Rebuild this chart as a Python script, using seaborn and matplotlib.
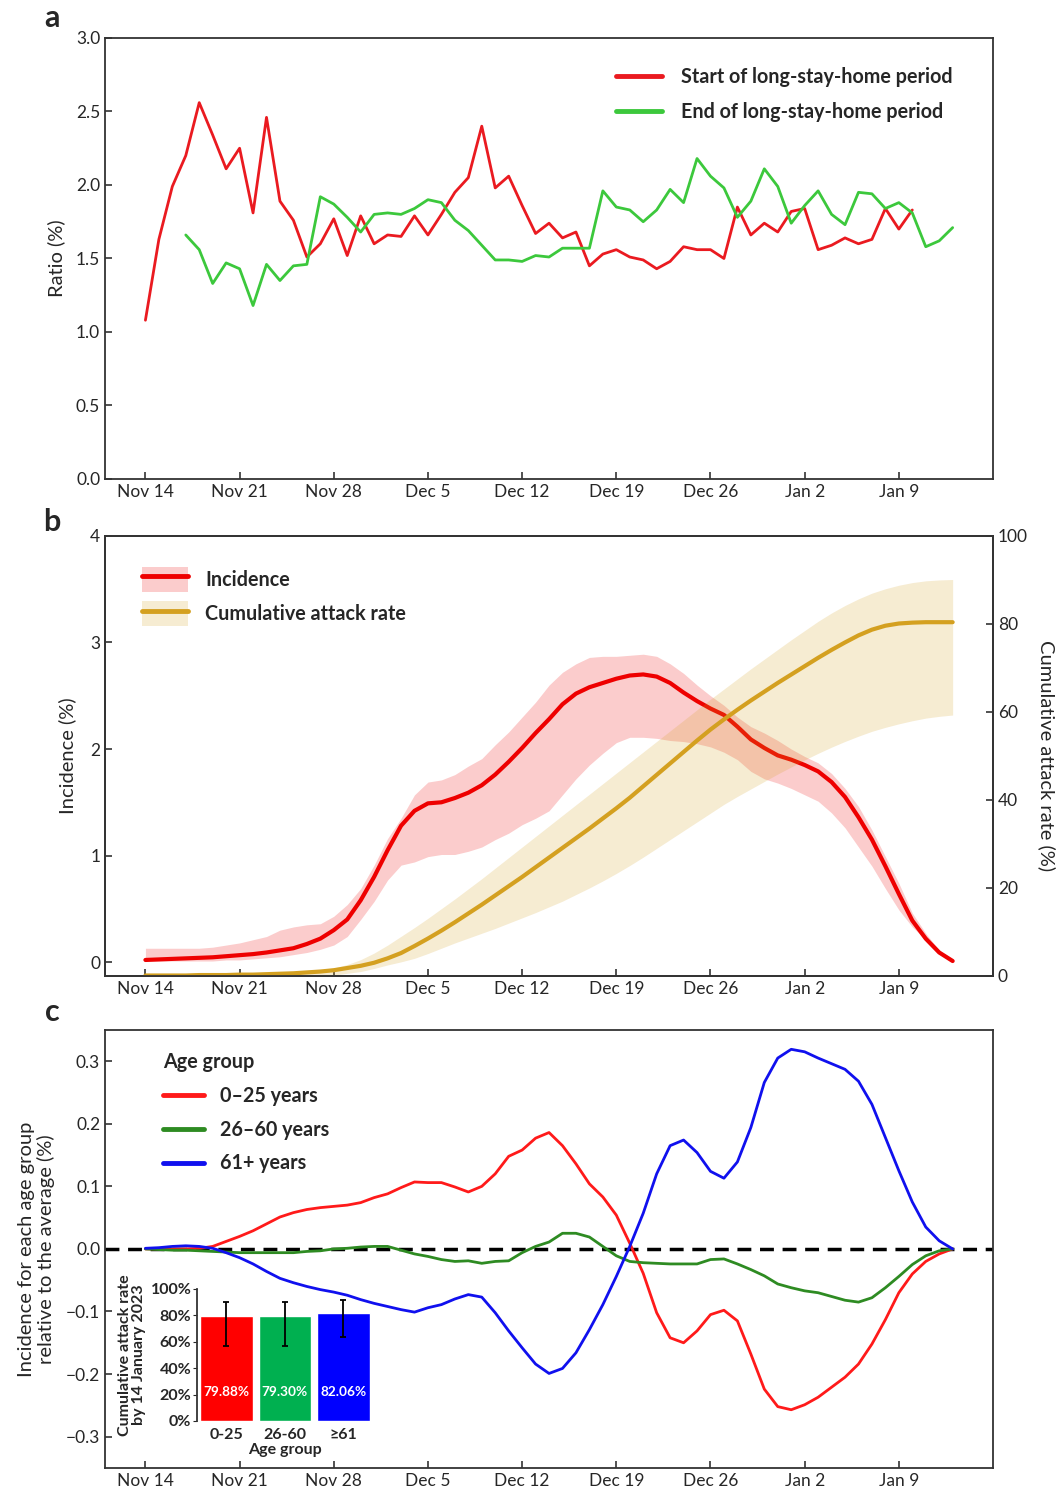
import pandas as pd
import seaborn as sns
import matplotlib.pyplot as plt
import matplotlib.dates as mdates
from matplotlib.patches import Patch
from matplotlib.lines import Line2D

# ---------------- data ----------------
start_day = '2022-11-14'
n_days = 61

# panel a: ratio (%), start series Nov 14 - Jan 10, end series Nov 17 - Jan 13
ratio_start = [1.08, 1.63, 1.99, 2.20, 2.56, 2.34, 2.11, 2.25, 1.81, 2.46,
               1.89, 1.76, 1.51, 1.60, 1.77, 1.52, 1.79, 1.60, 1.66, 1.65,
               1.79, 1.66, 1.80, 1.95, 2.05, 2.40, 1.98, 2.06, 1.86, 1.67,
               1.74, 1.64, 1.68, 1.45, 1.53, 1.56, 1.51, 1.49, 1.43, 1.48,
               1.58, 1.56, 1.56, 1.50, 1.85, 1.66, 1.74, 1.68, 1.82, 1.84,
               1.56, 1.59, 1.64, 1.60, 1.63, 1.84, 1.70, 1.83]
ratio_end = [1.66, 1.56, 1.33, 1.47, 1.43, 1.18, 1.46, 1.35, 1.45, 1.46,
             1.92, 1.87, 1.78, 1.68, 1.80, 1.81, 1.80, 1.84, 1.90, 1.88,
             1.76, 1.69, 1.59, 1.49, 1.49, 1.48, 1.52, 1.51, 1.57, 1.57,
             1.57, 1.96, 1.85, 1.83, 1.75, 1.83, 1.97, 1.88, 2.18, 2.06,
             1.98, 1.78, 1.89, 2.11, 1.99, 1.74, 1.86, 1.96, 1.80, 1.73,
             1.95, 1.94, 1.84, 1.88, 1.81, 1.58, 1.62, 1.71]

# panel b: incidence (%) and cumulative attack rate (%), Nov 14 - Jan 13
incidence = [0.02, 0.025, 0.03, 0.035, 0.04, 0.045, 0.055, 0.065, 0.075, 0.09,
             0.11, 0.13, 0.17, 0.22, 0.30, 0.40, 0.58, 0.80, 1.05, 1.28,
             1.42, 1.49, 1.50, 1.54, 1.59, 1.66, 1.76, 1.88, 2.01, 2.15,
             2.28, 2.42, 2.52, 2.58, 2.62, 2.66, 2.69, 2.70, 2.68, 2.62,
             2.53, 2.45, 2.38, 2.32, 2.21, 2.09, 2.01, 1.94, 1.90, 1.85,
             1.79, 1.69, 1.55, 1.36, 1.15, 0.90, 0.64, 0.39, 0.22, 0.09, 0.01]
incidence_lo = [0.01, 0.01, 0.01, 0.01, 0.01, 0.01, 0.02, 0.02, 0.03, 0.04,
                0.05, 0.07, 0.09, 0.12, 0.16, 0.24, 0.40, 0.57, 0.77, 0.91,
                0.94, 0.99, 1.01, 1.01, 1.04, 1.08, 1.15, 1.21, 1.29, 1.35,
                1.42, 1.57, 1.72, 1.85, 1.96, 2.06, 2.11, 2.11, 2.10, 2.08,
                2.07, 2.05, 2.02, 1.97, 1.90, 1.79, 1.72, 1.68, 1.63, 1.57,
                1.51, 1.40, 1.26, 1.08, 0.90, 0.69, 0.49, 0.33, 0.21, 0.09, 0.01]
incidence_hi = [0.13, 0.13, 0.13, 0.13, 0.13, 0.14, 0.16, 0.18, 0.21, 0.24,
                0.30, 0.33, 0.35, 0.36, 0.43, 0.54, 0.69, 0.91, 1.16, 1.35,
                1.57, 1.69, 1.71, 1.76, 1.84, 1.91, 2.04, 2.16, 2.30, 2.44,
                2.60, 2.72, 2.80, 2.86, 2.87, 2.87, 2.88, 2.89, 2.87, 2.80,
                2.71, 2.60, 2.50, 2.41, 2.30, 2.21, 2.15, 2.08, 2.00, 1.93,
                1.87, 1.77, 1.63, 1.46, 1.24, 0.99, 0.74, 0.46, 0.27, 0.11, 0.03]
attack = [0.1, 0.1, 0.1, 0.1, 0.2, 0.2, 0.2, 0.3, 0.3, 0.4,
          0.5, 0.6, 0.8, 1.0, 1.3, 1.8, 2.3, 3.0, 4.0, 5.2,
          6.8, 8.5, 10.3, 12.2, 14.2, 16.2, 18.3, 20.4, 22.5, 24.7,
          26.9, 29.1, 31.3, 33.5, 35.8, 38.1, 40.5, 43.1, 45.7, 48.3,
          50.9, 53.5, 56.0, 58.3, 60.5, 62.6, 64.6, 66.6, 68.5, 70.4,
          72.3, 74.1, 75.8, 77.4, 78.7, 79.6, 80.1, 80.3, 80.4, 80.4, 80.4]
attack_lo = [0, 0, 0, 0, 0, 0, 0, 0, 0.1, 0.1,
             0.1, 0.1, 0.1, 0.1, 0.2, 0.6, 1.0, 1.7, 2.5, 3.2,
             4.0, 5.1, 6.3, 7.5, 8.6, 9.7, 10.8, 12.0, 13.2, 14.4,
             15.7, 17.0, 18.5, 20.0, 21.6, 23.3, 25.1, 27.0, 29.0, 31.0,
             33.0, 35.0, 37.0, 39.0, 40.8, 42.5, 44.2, 45.9, 47.5, 49.1,
             50.6, 52.0, 53.3, 54.5, 55.6, 56.5, 57.3, 58.0, 58.6, 59.0, 59.3]
attack_hi = [0.3, 0.3, 0.3, 0.3, 0.4, 0.4, 0.5, 0.5, 0.6, 0.7,
             0.8, 0.9, 1.1, 1.4, 1.8, 2.6, 3.7, 5.2, 7.0, 9.0,
             11.0, 13.1, 15.3, 17.5, 19.8, 22.1, 24.5, 26.9, 29.3, 31.7,
             34.1, 36.5, 38.9, 41.3, 43.7, 46.1, 48.5, 50.9, 53.3, 55.7,
             58.1, 60.5, 62.9, 65.2, 67.5, 69.8, 72.0, 74.2, 76.4, 78.5,
             80.6, 82.5, 84.2, 85.7, 87.0, 88.0, 88.8, 89.4, 89.8, 90.0, 90.1]

# panel c: incidence of each age group relative to the average (%)
rel_0_25 = [0, 0, 0, 0, 0.001, 0.004, 0.012, 0.020, 0.029, 0.040,
            0.051, 0.058, 0.063, 0.066, 0.068, 0.070, 0.074, 0.082, 0.088, 0.098,
            0.107, 0.106, 0.106, 0.099, 0.091, 0.100, 0.120, 0.148, 0.158, 0.177,
            0.186, 0.165, 0.136, 0.104, 0.083, 0.054, 0.009, -0.039, -0.102, -0.142,
            -0.150, -0.131, -0.105, -0.098, -0.115, -0.168, -0.224, -0.252, -0.257, -0.249,
            -0.237, -0.221, -0.205, -0.184, -0.152, -0.113, -0.070, -0.040, -0.020, -0.008, 0]
rel_26_60 = [0, -0.001, -0.002, -0.002, -0.003, -0.004, -0.005, -0.006, -0.006, -0.006,
             -0.006, -0.006, -0.004, -0.003, 0, 0.001, 0.003, 0.004, 0.004, -0.002,
             -0.008, -0.012, -0.017, -0.020, -0.019, -0.023, -0.020, -0.019, -0.006, 0.004,
             0.011, 0.025, 0.025, 0.019, 0.004, -0.011, -0.020, -0.022, -0.023, -0.024,
             -0.024, -0.024, -0.017, -0.016, -0.024, -0.033, -0.043, -0.056, -0.062, -0.067,
             -0.070, -0.076, -0.082, -0.085, -0.078, -0.062, -0.044, -0.025, -0.011, -0.003, 0]
rel_61 = [0.001, 0.002, 0.004, 0.005, 0.004, 0.001, -0.006, -0.014, -0.024, -0.036,
          -0.047, -0.054, -0.060, -0.065, -0.069, -0.074, -0.081, -0.087, -0.092, -0.097,
          -0.101, -0.094, -0.089, -0.080, -0.073, -0.077, -0.102, -0.131, -0.158, -0.184,
          -0.199, -0.191, -0.166, -0.129, -0.089, -0.044, 0.004, 0.057, 0.120, 0.165,
          0.174, 0.154, 0.124, 0.113, 0.139, 0.194, 0.266, 0.305, 0.319, 0.315,
          0.305, 0.296, 0.287, 0.268, 0.231, 0.178, 0.125, 0.075, 0.035, 0.013, 0]

# inset: cumulative attack rate by 14 January 2023
age_groups = ['0-25', '26-60', '\u226561']
attack_by_age = [79.88, 79.30, 82.06]
attack_by_age_lo = [56.5, 57.0, 63.5]
attack_by_age_hi = [90.5, 90.0, 91.5]

# ---------------- style ----------------
sns.set_style('ticks')
plt.rcParams['font.family'] = ['Lato', 'DejaVu Sans']
plt.rcParams['axes.edgecolor'] = '#333333'
plt.rcParams['axes.linewidth'] = 1.3
plt.rcParams['xtick.direction'] = 'in'
plt.rcParams['ytick.direction'] = 'in'
plt.rcParams['xtick.labelsize'] = 12.5
plt.rcParams['ytick.labelsize'] = 12.5

dates = pd.date_range(start_day, periods=n_days)
week_ticks = pd.date_range(start_day, periods=9, freq='7D')
xmin = dates[0] - pd.Timedelta(days=3)
xmax = dates[0] + pd.Timedelta(days=63)

fig = plt.figure(figsize=(10.59, 14.95), dpi=100)
ax_a = fig.add_axes([0.0992, 0.6796, 0.8385, 0.295])
ax_b = fig.add_axes([0.0992, 0.3472, 0.8385, 0.2943])
ax_c = fig.add_axes([0.0992, 0.0181, 0.8385, 0.293])

leg_font = {'weight': 'bold', 'size': 14.2}


def date_axis(ax):
    ax.set_xlim(xmin, xmax)
    ax.set_xticks(week_ticks)
    ax.xaxis.set_major_formatter(mdates.DateFormatter('%b %-d'))
    ax.set_xlabel('')
    ax.tick_params(length=5, width=1.2, color='#333333')


# ---- a: ratio ----
sns.lineplot(x=dates[:len(ratio_start)], y=ratio_start, ax=ax_a, color='#ea1a20',
             lw=2, label='Start of long-stay-home period')
sns.lineplot(x=dates[3:3 + len(ratio_end)], y=ratio_end, ax=ax_a, color='#3cc83c',
             lw=2, label='End of long-stay-home period')
ax_a.set_ylim(0, 3)
ax_a.set_yticks([0, 0.5, 1, 1.5, 2, 2.5, 3])
ax_a.set_yticklabels(['0.0', '0.5', '1.0', '1.5', '2.0', '2.5', '3.0'])
ax_a.set_ylabel('Ratio (%)', fontsize=14.5, labelpad=8)
date_axis(ax_a)
ax_a.legend(loc='upper right', bbox_to_anchor=(0.975, 0.975), frameon=False,
            prop=leg_font, handlelength=2.3, handletextpad=1.0, labelspacing=0.75)
for lh in ax_a.get_legend().get_lines():
    lh.set_linewidth(3.5)

# ---- b: incidence and cumulative attack rate ----
red_b = '#ee0000'
gold = '#d4a020'
ax_b.fill_between(dates, incidence_lo, incidence_hi, color=red_b, alpha=0.2, lw=0)
sns.lineplot(x=dates, y=incidence, ax=ax_b, color=red_b, lw=3)
ax_b.set_ylim(-0.13, 4)
ax_b.set_yticks([0, 1, 2, 3, 4])
ax_b.set_ylabel('Incidence (%)', fontsize=14.5, labelpad=10)
date_axis(ax_b)

ax_b2 = ax_b.twinx()
ax_b2.fill_between(dates, attack_lo, attack_hi, color=gold, alpha=0.2, lw=0)
sns.lineplot(x=dates, y=attack, ax=ax_b2, color=gold, lw=3)
ax_b2.set_ylim(0, 100)
ax_b2.set_yticks([0, 20, 40, 60, 80, 100])
ax_b2.set_ylabel('Cumulative attack rate (%)', fontsize=14.5, rotation=270, labelpad=20)
ax_b2.tick_params(length=5, width=1.2, color='#333333')
date_axis(ax_b2)

handles_b = [(Patch(facecolor=red_b, alpha=0.2, lw=0), Line2D([], [], color=red_b, lw=3.5)),
             (Patch(facecolor=gold, alpha=0.2, lw=0), Line2D([], [], color=gold, lw=3.5))]
ax_b2.legend(handles_b, ['Incidence', 'Cumulative attack rate'], loc='upper left',
             bbox_to_anchor=(0.022, 0.97), frameon=False, prop=leg_font,
             handlelength=2.3, handleheight=1.6, handletextpad=0.9, labelspacing=0.45)

# ---- c: relative incidence by age group ----
rel_df = pd.DataFrame({
    'date': list(dates) * 3,
    'value': rel_0_25 + rel_26_60 + rel_61,
    'group': ['0\u201325 years'] * n_days + ['26\u201360 years'] * n_days + ['61+ years'] * n_days,
})
sns.lineplot(data=rel_df, x='date', y='value', hue='group', ax=ax_c, lw=2,
             palette=['#ff1a1a', '#2e8b22', '#1010ee'])
ax_c.axhline(0, color='black', ls=(0, (4, 2.5)), lw=2.5, zorder=1)
ax_c.set_ylim(-0.35, 0.35)
ax_c.set_yticks([-0.3, -0.2, -0.1, 0, 0.1, 0.2, 0.3])
ax_c.set_ylabel('Incidence for each age group\nrelative to the average (%)', fontsize=14.5,
                labelpad=8, linespacing=1.1)
date_axis(ax_c)
leg_c = ax_c.legend(loc='upper left', bbox_to_anchor=(0.045, 0.99), frameon=False,
                    title='Age group', alignment='left', prop=leg_font,
                    title_fontproperties=leg_font,
                    handlelength=2.1, handletextpad=0.8, labelspacing=0.7)
for lh in leg_c.get_lines():
    lh.set_linewidth(3.5)

# inset bar chart
ax_in = fig.add_axes([0.186, 0.0495, 0.166, 0.0883])
ax_in.patch.set_alpha(0)
sns.barplot(x=age_groups, y=attack_by_age, hue=age_groups, legend=False,
            palette=['#ff0000', '#00b050', '#0000ff'], width=0.9, saturation=1, ax=ax_in)
err_lo = [v - lo for v, lo in zip(attack_by_age, attack_by_age_lo)]
err_hi = [hi - v for v, hi in zip(attack_by_age, attack_by_age_hi)]
ax_in.errorbar(range(3), attack_by_age, yerr=[err_lo, err_hi], fmt='none',
               ecolor='black', elinewidth=1.3, capsize=2.5, capthick=1.3)
for i, v in enumerate(attack_by_age):
    ax_in.text(i, 22, f'{v:.2f}%', color='white', ha='center', va='center',
               fontsize=9.8, fontweight='bold')
ax_in.set_xlim(-0.5, 2.5)
ax_in.set_ylim(0, 100)
ax_in.set_yticks([0, 20, 40, 60, 80, 100])
ax_in.set_yticklabels([f'{t}%' for t in range(0, 101, 20)], fontweight='bold', fontsize=11.5)
ax_in.set_xticks(range(3))
ax_in.set_xticklabels(age_groups, fontweight='bold', fontsize=11.5)
ax_in.tick_params(axis='y', direction='out', length=3, pad=1)
ax_in.tick_params(axis='x', length=0, pad=5)
ax_in.set_xlabel('Age group', fontweight='bold', fontsize=11.5, labelpad=1)
ax_in.set_ylabel('Cumulative attack rate\nby 14 January 2023', fontweight='bold',
                 fontsize=11.5, labelpad=3, linespacing=1.05)
for s in ['top', 'right', 'bottom']:
    ax_in.spines[s].set_visible(False)

# panel letters
for letter, y in [('a', 0.988), ('b', 0.651), ('c', 0.323)]:
    fig.text(0.049, y, letter, fontsize=22, fontweight='bold', ha='center', va='center')

fig.savefig('out.png', dpi=100)
